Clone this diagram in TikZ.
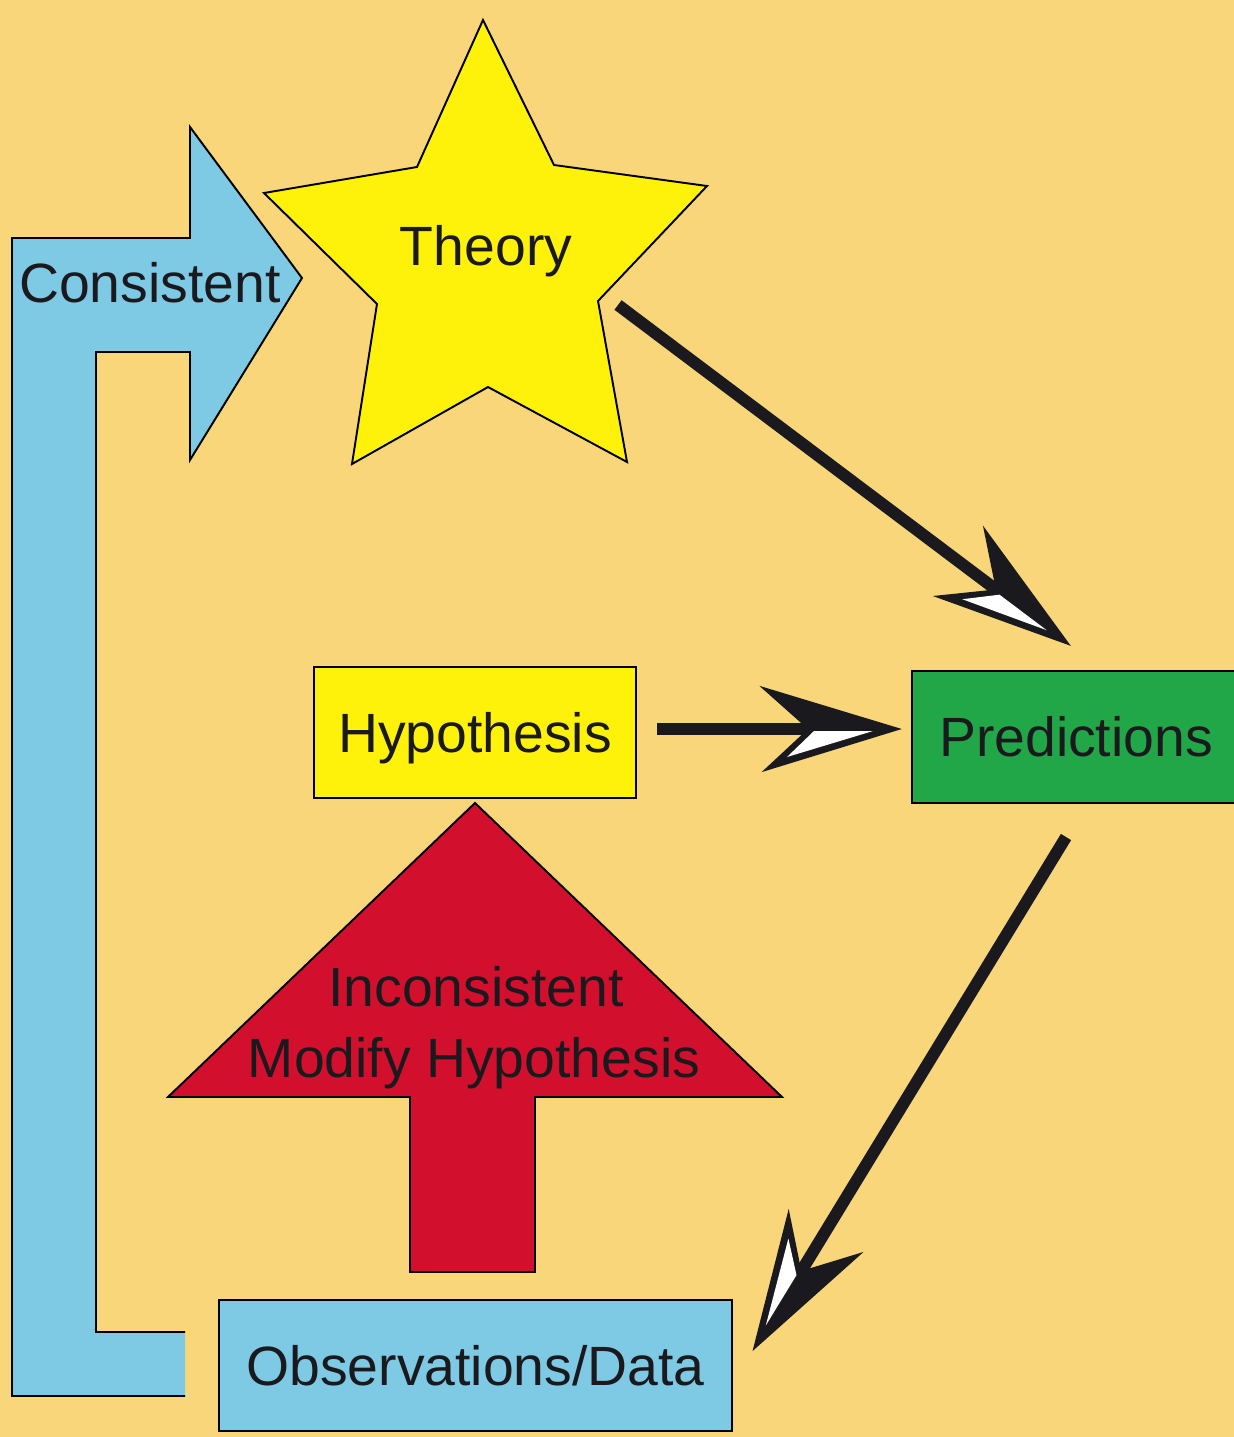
\documentclass[tikz,border=0pt]{standalone}
\usepackage{fontspec}
\setmainfont{Liberation Sans}
\usetikzlibrary{calc,positioning}
\definecolor{bgcol}{RGB}{249,214,122}
\definecolor{starcol}{RGB}{255,242,10}
\definecolor{skycol}{RGB}{126,201,228}
\definecolor{leafcol}{RGB}{34,167,72}
\definecolor{redcol}{RGB}{210,16,45}
\definecolor{ink}{RGB}{26,26,30}
\tikzset{%
	block/.style    = {draw=black, line width=1.1pt, rectangle, inner sep=0pt, text height=22.6pt, text depth=0pt, text=ink}, % Box
	tag/.style      = {text=ink, anchor=base, inner sep=0pt}, % Text only
	outline/.style  = {draw=black, line width=1.1pt, line join=miter},
	arrow/.style    = {line width=6.8pt, draw=ink, shorten >=1.6cm},
	headtip/.pic    = {
		\filldraw[ink, line width=1.6pt, line join=miter] (0,0) -- (-132,-40) -- (-87,0) -- (-130,40) -- cycle;
		\fill[white] (-83,2) -- (-24,2) -- (-110,28) -- cycle;
	},
}

\begin{document}
\begin{tikzpicture}[x=0.02cm, y=-0.02cm, font=\fontsize{31.5pt}{40pt}\selectfont]
	\useasboundingbox (0,0) rectangle (1234,1437);
	\clip (0,0) rectangle (1234,1437);
	\fill[bgcol] (0,0) rectangle (1234,1437);
	
	% Consistent arrow
	\fill[skycol] (185,1396) -- (12,1396) -- (12,238) -- (190,238) -- (190,127) -- (302,278) -- (190,460) -- (190,352) -- (96,352) -- (96,1332) -- (185,1332) -- cycle;
	\draw[outline] (185,1396) -- (12,1396) -- (12,238) -- (190,238) -- (190,127) -- (302,278) -- (190,460) -- (190,352) -- (96,352) -- (96,1332) -- (185,1332);
	\node[tag] (cons) at (150,302) {Consistent};
	
	% Theory star
	\filldraw[outline, fill=starcol] (483,20) -- (554,165) -- (707,186) -- (598,301) -- (627,462) -- (488,387) -- (352,464) -- (377,304) -- (264,193) -- (417,167) -- cycle;
	\node[tag] (theory) at (486,265) {Theory};
	
	% Inconsistent arrow
	\filldraw[outline, fill=redcol] (475,803) -- (782,1097) -- (535,1097) -- (535,1272) -- (410,1272) -- (410,1097) -- (168,1097) -- cycle;
	\node[tag] (incons) at (476,1006) {Inconsistent};
	\node[tag] (modify) at (474,1077) {Modify Hypothesis};
	
	\node[block, fill=starcol, minimum width=6.44cm, minimum height=2.62cm] (hypo) at (475,732.5) {Hypothesis};
	\node[block, fill=leafcol, minimum width=6.56cm, minimum height=2.64cm] (pred) at (1076,737) {Predictions};
	\node[block, fill=skycol, minimum width=10.26cm, minimum height=2.62cm] (obs) at (475.5,1365.5) {Observations/Data};
	
	\coordinate (t1) at (618,305);
	\coordinate (t2) at (1067,643);
	\coordinate (h1) at (657,729);
	\coordinate (h2) at (897,729);
	\coordinate (p1) at (1066,837);
	\coordinate (p2) at (755,1347);
	
	\draw[arrow] (t1) -- (t2);
	\draw[arrow] (h1) -- (h2);
	\draw[arrow] (p1) -- (p2);
	\path (t1) -- (t2) pic[pos=1, sloped, allow upside down] {headtip};
	\path (h1) -- (h2) pic[pos=1, sloped, allow upside down] {headtip};
	\path (p1) -- (p2) pic[pos=1, sloped, allow upside down] {headtip};
\end{tikzpicture}
\end{document}
